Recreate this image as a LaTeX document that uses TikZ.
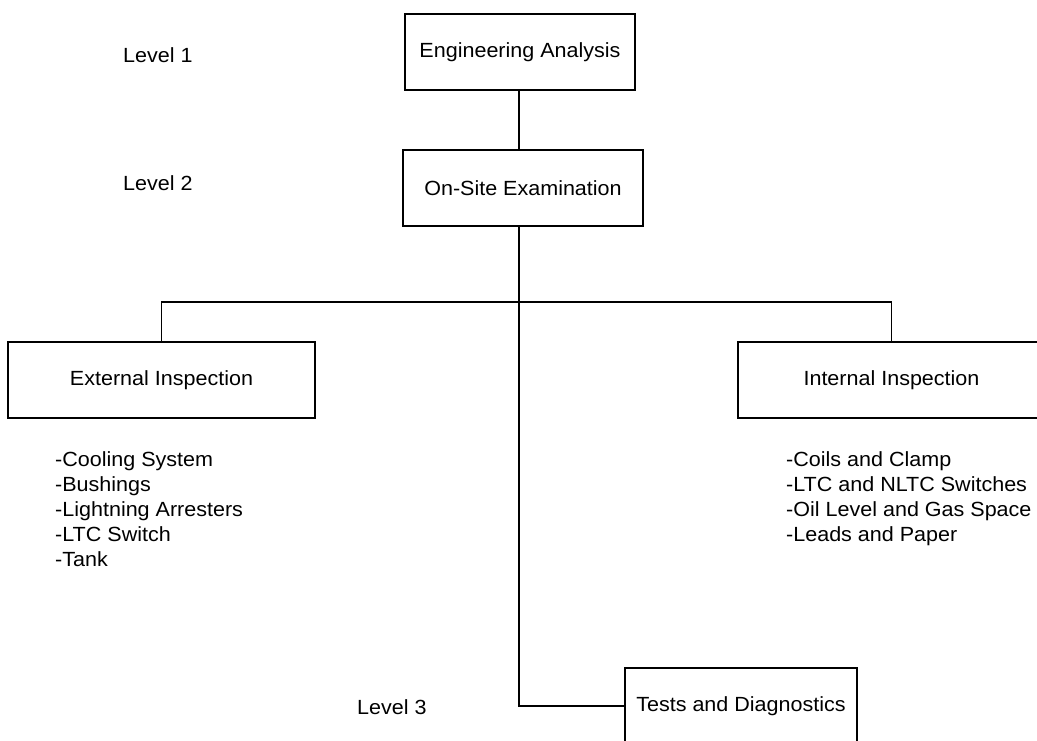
\documentclass[tikz,border=0pt]{standalone}
\usepackage{fontspec}
\setmainfont[FakeStretch=1.05]{Liberation Sans}
\begin{document}
\begin{tikzpicture}[x=1pt,y=-1pt,
  every node/.style={font=\fontsize{20.5}{25}\selectfont, text=black},
  box/.style={draw, line width=1.8pt, minimum height=76pt, inner sep=0pt},
  conn/.style={line width=1.8pt},
  lbl/.style={anchor=west, inner sep=0pt},
  lst/.style={anchor=north west, align=left, inner sep=0pt}]
\useasboundingbox (0,0) rectangle (1037,740);
\node[box, minimum width=230pt] (EA) at (520,52) {Engineering Analysis};
\node[box, minimum width=240pt] (OS) at (523,188) {On-Site Examination};
\node[box, minimum width=307pt] (EI) at (161.5,380) {External Inspection};
\node[box, minimum width=307pt] (II) at (891.5,380) {Internal Inspection};
\node[box, minimum width=232pt] (TD) at (741,706) {Tests and Diagnostics};
\coordinate (j) at (519,302);
\node[lbl] (L1) at (123,55) {Level 1};
\node[lbl] (L2) at (123,183) {Level 2};
\node[lbl] (L3) at (357,707) {Level 3};
\node[lst] (EL) at (55,451.5) {-Cooling System\\-Bushings\\-Lightning Arresters\\-LTC Switch\\-Tank};
\node[lst] (IL) at (786,451.5) {-Coils and Clamp\\-LTC and NLTC Switches\\-Oil Level and Gas Space\\-Leads and Paper};
\draw[conn] (EA.south -| j) -- (OS.north -| j);
\draw[conn] (OS.south -| j) |- (TD.west);
\draw[conn] (EI.north) |- (j) -| (II.north);
\end{tikzpicture}
\end{document}
